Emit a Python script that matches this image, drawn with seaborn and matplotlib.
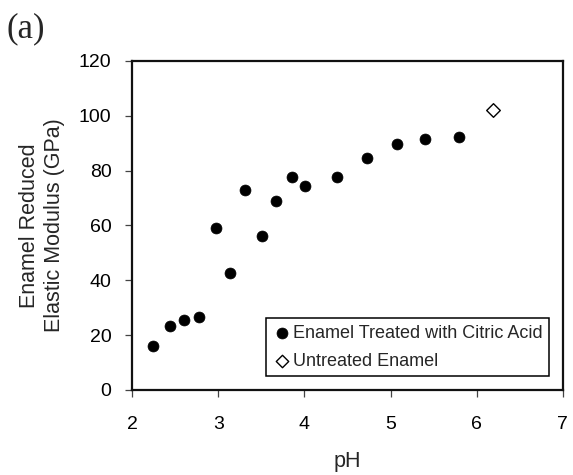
import matplotlib
matplotlib.use("Agg")
import matplotlib.pyplot as plt
import seaborn as sns
import pandas as pd

# Data
treated_ph = [2.24, 2.44, 2.60, 2.78, 2.97, 3.135, 3.31, 3.51, 3.67, 3.85, 4.01, 4.38, 4.73, 5.07, 5.40, 5.79]
treated_modulus = [16.1, 23.3, 25.4, 26.5, 59.2, 42.7, 72.9, 56.0, 68.9, 77.5, 74.5, 77.5, 84.7, 89.8, 91.4, 92.2]
untreated_ph = [6.19]
untreated_modulus = [102.0]
label_treated = "Enamel Treated with Citric Acid"
label_untreated = "Untreated Enamel"

sns.set_style("ticks")
plt.rcParams['font.family'] = ['Liberation Sans', 'DejaVu Sans']

df_t = pd.DataFrame({"pH": treated_ph, "E": treated_modulus})
df_u = pd.DataFrame({"pH": untreated_ph, "E": untreated_modulus})

fig = plt.figure(figsize=(5.73, 4.75), dpi=100)
ax = fig.add_axes([0.2308, 0.179, 0.982 - 0.2308, 0.872 - 0.179])

sns.scatterplot(data=df_t, x="pH", y="E", ax=ax, marker="o", s=62,
                color="black", edgecolor="black", linewidth=0.5, label=label_treated, zorder=3)
sns.scatterplot(data=df_u, x="pH", y="E", ax=ax, marker="D", s=48,
                facecolor="white", edgecolor="black", linewidth=1.0, label=label_untreated, zorder=3)

ax.set_xlim(2, 7)
ax.set_ylim(0, 120)
ax.set_xticks([2, 3, 4, 5, 6, 7])
ax.set_yticks([0, 20, 40, 60, 80, 100, 120])
for s in ax.spines.values():
    s.set_visible(True)
    s.set_linewidth(1.6)
    s.set_color("#111111")
ax.tick_params(axis="both", labelsize=14, length=5, width=0.9, direction="out",
               color="#444444", labelcolor="black")
ax.tick_params(axis="x", pad=14)
ax.tick_params(axis="y", pad=10)

ax.set_xlabel("pH", fontsize=15.5, labelpad=13)
ax.set_ylabel("Enamel Reduced\nElastic Modulus (GPa)", fontsize=15.5, labelpad=10, linespacing=1.25)

leg = ax.legend(loc="lower right", bbox_to_anchor=(0.969, 0.043), fontsize=13, frameon=True,
                fancybox=False, edgecolor="black", framealpha=1, handletextpad=0.15,
                borderpad=0.35, labelspacing=0.6, handlelength=1.0, borderaxespad=0)
leg.get_frame().set_linewidth(1.1)
handles = leg.legend_handles
handles[0].set_sizes([62])
handles[1].set_sizes([40])

fig.text(0.012, 0.975, "(a)", fontsize=25, family="Liberation Serif", va="top", ha="left")

fig.savefig("out.png", dpi=100)
